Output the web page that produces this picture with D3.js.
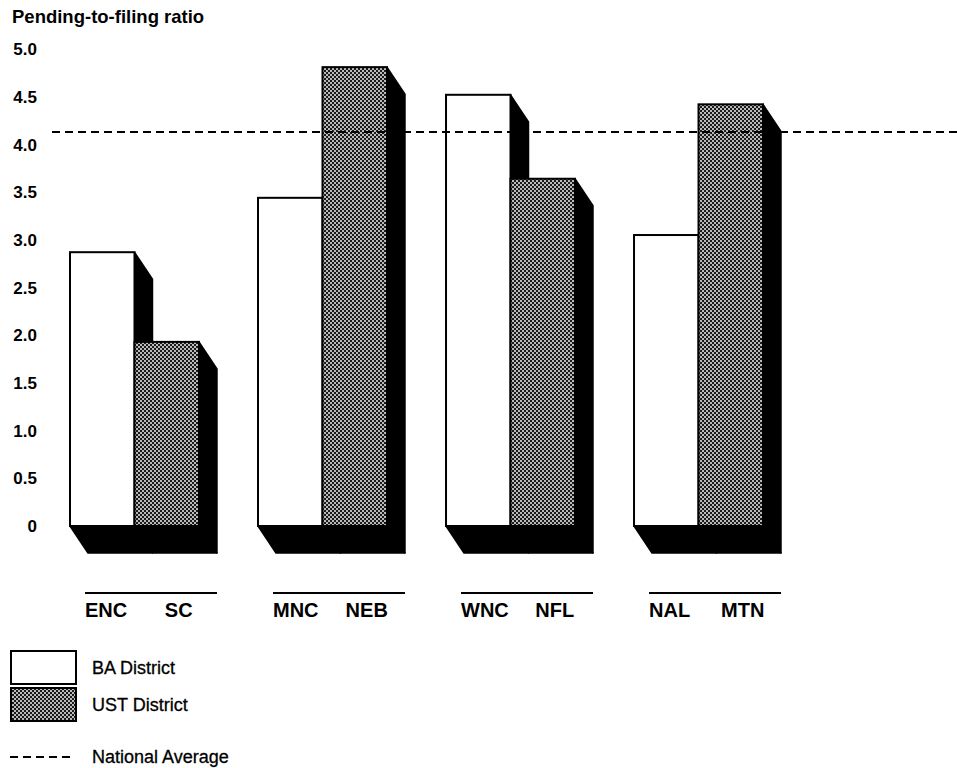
<!DOCTYPE html>
<html>
<head>
<meta charset="utf-8">
<script src="https://cdn.jsdelivr.net/npm/d3@7"></script>
<style>
  html, body { margin: 0; padding: 0; background: #fff; }
  svg { display: block; }
  text { font-family: "Liberation Sans", Arial, Helvetica, sans-serif; fill: #000; }
</style>
</head>
<body>
<svg id="chart" width="957" height="768"></svg>
<script>
// Pending-to-filing ratios by district pair
const groups = [
  ["ENC", "SC"],
  ["MNC", "NEB"],
  ["WNC", "NFL"],
  ["NAL", "MTN"]
];
const seriesNames = ["BA District", "UST District"];
const baValues  = [2.87, 3.44, 4.52, 3.05];
const ustValues = [1.93, 4.81, 3.64, 4.42];
const nationalAverage = 4.13;
const yTicks = [0, 0.5, 1, 1.5, 2, 2.5, 3, 3.5, 4, 4.5, 5];
const yTitle = "Pending-to-filing ratio";
const legendAverage = "National Average";

const svg = d3.select("#chart");

// Halftone fill for the UST bars
const defs = svg.append("defs");
const pat = defs.append("pattern")
  .attr("id", "halftone")
  .attr("patternUnits", "userSpaceOnUse")
  .attr("width", 4).attr("height", 4);
pat.append("rect").attr("width", 4).attr("height", 4).attr("fill", "#1a1a1a");
pat.append("circle").attr("cx", 1).attr("cy", 1).attr("r", 0.95).attr("fill", "#fff");
pat.append("circle").attr("cx", 3).attr("cy", 3).attr("r", 0.95).attr("fill", "#fff");

const y = d3.scaleLinear().domain([0, 5]).range([526, 49]);
const xGroup = d3.scaleBand()
  .domain(d3.range(groups.length))
  .range([70, 763])
  .paddingInner(0.314)
  .paddingOuter(0);
const xSeries = d3.scaleBand()
  .domain([0, 1])
  .range([0, xGroup.bandwidth()])
  .padding(0);

// Depth of the extruded shadow
const dx = 18, dy = 27;

// Y axis title and tick labels
svg.append("text")
  .attr("x", 12).attr("y", 23)
  .attr("font-size", 18.5).attr("font-weight", "bold")
  .text(yTitle);

svg.append("g").selectAll("text")
  .data(yTicks)
  .join("text")
  .attr("x", 37)
  .attr("y", d => y(d))
  .attr("dy", "0.36em")
  .attr("text-anchor", "end")
  .attr("font-size", 17)
  .attr("font-weight", "bold")
  .text(d => d === 0 ? "0" : d3.format(".1f")(d));

// Bars: side faces, one shared floor slab per group, then front faces
const bars = svg.append("g");
groups.forEach((g, gi) => {
  const vals = [baValues[gi], ustValues[gi]];
  const grp = bars.append("g");
  const yb = y(0);
  vals.forEach((v, si) => {
    const x1 = xGroup(gi) + xSeries(si) + xSeries.bandwidth();
    const yt = y(v);
    grp.append("polygon")
      .attr("points", [[x1, yt], [x1 + dx, yt + dy], [x1 + dx, yb + dy], [x1, yb]].join(" "))
      .attr("fill", "#000").attr("stroke", "#000").attr("stroke-width", 1.5)
      .attr("stroke-linejoin", "round");
  });
  const gx0 = xGroup(gi), gx1 = xGroup(gi) + xGroup.bandwidth();
  grp.append("polygon")
    .attr("points", [[gx0, yb], [gx1, yb], [gx1 + dx, yb + dy], [gx0 + dx, yb + dy]].join(" "))
    .attr("fill", "#000").attr("stroke", "#000").attr("stroke-width", 1.5)
    .attr("stroke-linejoin", "round");
  vals.forEach((v, si) => {
    const x0 = xGroup(gi) + xSeries(si);
    const yt = y(v);
    grp.append("rect")
      .attr("x", x0).attr("y", yt)
      .attr("width", xSeries.bandwidth()).attr("height", yb - yt)
      .attr("fill", si === 0 ? "#fff" : "url(#halftone)")
      .attr("stroke", "#000").attr("stroke-width", 2);
  });
});

// National average reference line
svg.append("line")
  .attr("x1", 52).attr("x2", 957)
  .attr("y1", y(nationalAverage)).attr("y2", y(nationalAverage))
  .attr("stroke", "#000").attr("stroke-width", 2.2)
  .attr("stroke-dasharray", "8,5");

// Group underlines and category labels
const labels = svg.append("g");
groups.forEach((g, gi) => {
  const left = xGroup(gi) + 15;
  const right = xGroup(gi) + xGroup.bandwidth() + dx;
  labels.append("line")
    .attr("x1", left).attr("x2", right)
    .attr("y1", 593).attr("y2", 593)
    .attr("stroke", "#000").attr("stroke-width", 2);
  labels.append("text")
    .attr("x", left).attr("y", 617)
    .attr("font-size", 20).attr("font-weight", "bold")
    .text(g[0]);
  labels.append("text")
    .attr("x", xGroup(gi) + xSeries(1) + xSeries.bandwidth() / 2 + 12)
    .attr("y", 617)
    .attr("text-anchor", "middle")
    .attr("font-size", 20).attr("font-weight", "bold")
    .text(g[1]);
});

// Legend
const legend = svg.append("g");
seriesNames.forEach((name, i) => {
  const top = 651 + i * 37;
  legend.append("rect")
    .attr("x", 11).attr("y", top)
    .attr("width", 65).attr("height", 33)
    .attr("fill", i === 0 ? "#fff" : "url(#halftone)")
    .attr("stroke", "#000").attr("stroke-width", 2);
  legend.append("text")
    .attr("x", 92).attr("y", top + 17)
    .attr("dy", "0.36em")
    .attr("font-size", 18)
    .attr("stroke", "#000").attr("stroke-width", 0.3)
    .text(name);
});
legend.append("line")
  .attr("x1", 10).attr("x2", 70)
  .attr("y1", 757).attr("y2", 757)
  .attr("stroke", "#000").attr("stroke-width", 2)
  .attr("stroke-dasharray", "8,5");
legend.append("text")
  .attr("x", 92).attr("y", 757)
  .attr("dy", "0.36em")
  .attr("font-size", 18)
  .attr("stroke", "#000").attr("stroke-width", 0.3)
  .text(legendAverage);
</script>
</body>
</html>
